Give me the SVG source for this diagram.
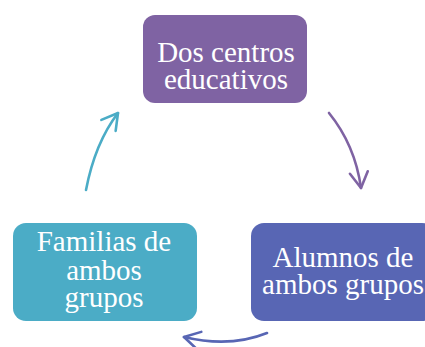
<svg xmlns="http://www.w3.org/2000/svg" width="425" height="347" viewBox="0 0 425 347">
<style>
text{font-family:"Liberation Serif","Times New Roman",serif;font-size:29px;fill:#fff;text-anchor:middle}
.c{fill:none;stroke-width:2.6;stroke-linecap:round}
</style>
<defs>
<marker id="mp" markerUnits="userSpaceOnUse" markerWidth="40" markerHeight="40" refX="0" refY="0" viewBox="-20 -20 40 40" orient="auto" overflow="visible"><path d="M-15.6,-9 L0,0 L-15.6,9" fill="none" stroke="#7F63A3" stroke-width="2.6" stroke-linecap="round" stroke-linejoin="round"/></marker>
<marker id="mt" markerUnits="userSpaceOnUse" markerWidth="40" markerHeight="40" refX="0" refY="0" viewBox="-20 -20 40 40" orient="auto" overflow="visible"><path d="M-15.6,-9 L0,0 L-15.6,9" fill="none" stroke="#4BACC6" stroke-width="2.6" stroke-linecap="round" stroke-linejoin="round"/></marker>
<marker id="mb" markerUnits="userSpaceOnUse" markerWidth="40" markerHeight="40" refX="0" refY="0" viewBox="-20 -20 40 40" orient="auto" overflow="visible"><path d="M-15.6,-9 L0,0 L-15.6,9" fill="none" stroke="#5866B4" stroke-width="2.6" stroke-linecap="round" stroke-linejoin="round"/></marker>
</defs>
<g id="connectors">
<path class="c" stroke="#7F63A3" d="M329,113 Q355,145 361,188" marker-end="url(#mp)"/>
<path class="c" stroke="#5866B4" d="M267,333 Q230,348 184,337" marker-end="url(#mb)"/>
<path class="c" stroke="#4BACC6" d="M86,190 Q95,143 118,113" marker-end="url(#mt)"/>
</g>
<g id="node-centros">
<rect x="143" y="15" width="164" height="88" rx="12" fill="#7F63A3"/>
<text x="226" y="62">Dos centros</text>
<text x="226" y="88.5">educativos</text>
</g>
<g id="node-alumnos">
<rect x="251" y="223" width="184" height="98" rx="13" fill="#5866B4"/>
<text x="343" y="267">Alumnos de</text>
<text x="343" y="294">ambos grupos</text>
</g>
<g id="node-familias">
<rect x="13" y="223" width="184" height="98" rx="13" fill="#4BACC6"/>
<text x="104" y="251">Familias de</text>
<text x="104" y="279.5">ambos</text>
<text x="104" y="307">grupos</text>
</g>
</svg>
